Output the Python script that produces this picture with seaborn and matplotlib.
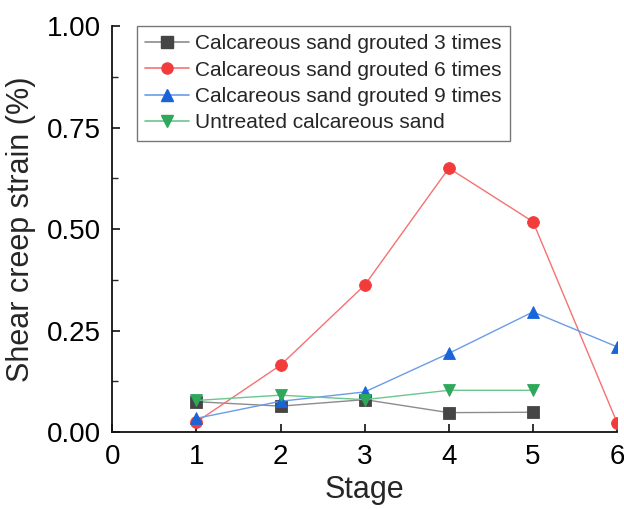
import numpy as np
import pandas as pd
import matplotlib
matplotlib.use("Agg")
import matplotlib.pyplot as plt
from matplotlib.lines import Line2D
from matplotlib.ticker import MultipleLocator, FormatStrFormatter
import seaborn as sns

# Shear creep strain (%) per loading stage
stage_3x = [1, 2, 3, 4, 5]
strain_3x = [0.075, 0.064, 0.080, 0.048, 0.049]

stage_6x = [1, 2, 3, 4, 5, 6]
strain_6x = [0.025, 0.165, 0.362, 0.650, 0.518, 0.023]

stage_9x = [1, 2, 3, 4, 5, 6]
strain_9x = [0.034, 0.076, 0.099, 0.194, 0.296, 0.210]

stage_un = [1, 2, 3, 4, 5]
strain_un = [0.078, 0.091, 0.080, 0.103, 0.103]

labels = ["Calcareous sand grouted 3 times",
          "Calcareous sand grouted 6 times",
          "Calcareous sand grouted 9 times",
          "Untreated calcareous sand"]

marker_colors = ["#454545", "#F23B3B", "#1864D8", "#2EA85A"]
line_colors = ["#8C8C8C", "#F57272", "#6B9CE8", "#6CC68E"]
markers = ["s", "o", "^", "v"]

frames = []
for lab, xs, ys in zip(labels,
                       [stage_3x, stage_6x, stage_9x, stage_un],
                       [strain_3x, strain_6x, strain_9x, strain_un]):
    frames.append(pd.DataFrame({"Stage": xs, "Strain": ys, "Group": lab}))
df = pd.concat(frames, ignore_index=True)

sns.set_style("ticks")
plt.rcParams["font.family"] = ["Liberation Sans", "DejaVu Sans"]

fig = plt.figure(figsize=(6.24, 5.09), dpi=100)
ax = fig.add_axes([0.180, 0.151, 0.809, 0.798])

sns.lineplot(data=df, x="Stage", y="Strain", hue="Group", style="Group",
             hue_order=labels, style_order=labels,
             palette=dict(zip(labels, line_colors)),
             markers=dict(zip(labels, markers)), dashes=False,
             linewidth=1.0, markersize=8.5, ax=ax, legend=False)

for line, mc, lc in zip(ax.lines, marker_colors, line_colors):
    line.set_color(lc)
    line.set_markerfacecolor(mc)
    line.set_markeredgecolor(mc)
    line.set_markeredgewidth(0.6)

ax.set_xlim(0, 6)
ax.set_ylim(0, 1.0)
ax.xaxis.set_major_locator(MultipleLocator(1))
ax.yaxis.set_major_locator(MultipleLocator(0.25))
ax.yaxis.set_minor_locator(MultipleLocator(0.125))
ax.yaxis.set_major_formatter(FormatStrFormatter("%.2f"))

for side in ["top", "right"]:
    ax.spines[side].set_visible(False)
for side in ["left", "bottom"]:
    ax.spines[side].set_linewidth(1.3)
    ax.spines[side].set_color("#111111")

ax.tick_params(axis="both", which="major", direction="in", length=6,
               width=1.2, labelsize=20, colors="#111111",
               labelcolor="black")
ax.tick_params(axis="y", which="major", pad=8)
ax.tick_params(axis="x", which="major", pad=8.5)
ax.tick_params(axis="y", which="minor", direction="in", length=4, width=1.0)
ax.set_xlabel("Stage", fontsize=22, labelpad=3.5)
ax.set_ylabel("Shear creep strain (%)", fontsize=22, labelpad=8)

handles = [Line2D([0], [0], color=lc, lw=1.2, marker=m, markersize=8,
                  markerfacecolor=mc, markeredgecolor=mc)
           for lc, mc, m in zip(line_colors, marker_colors, markers)]
leg = ax.legend(handles, labels, loc="upper left",
                bbox_to_anchor=(0.048, 1.0), fontsize=15, frameon=True,
                fancybox=False, edgecolor="#555555", handlelength=2.1,
                handletextpad=0.3, borderpad=0.4, labelspacing=0.35,
                borderaxespad=0.0)
leg.get_frame().set_linewidth(1.0)

fig.savefig("out.png", dpi=100)
